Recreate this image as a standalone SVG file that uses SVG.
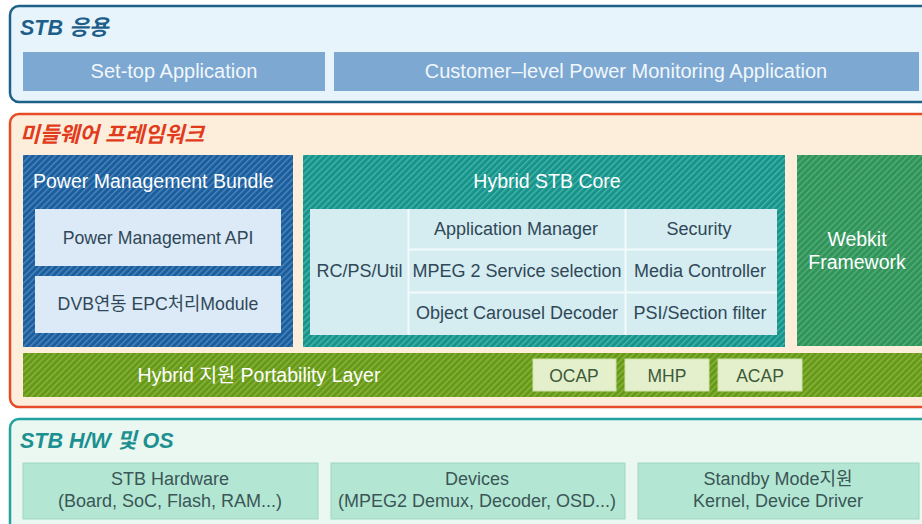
<svg xmlns="http://www.w3.org/2000/svg" width="922" height="524" viewBox="0 0 922 524">
<defs>
<pattern id="hBlue" width="4.5" height="4.5" patternUnits="userSpaceOnUse" patternTransform="rotate(45)">
<rect width="4.5" height="4.5" fill="#1c5d9b"/><rect width="1.4" height="4.5" fill="#4a86bf"/></pattern>
<pattern id="hTeal" width="4.5" height="4.5" patternUnits="userSpaceOnUse" patternTransform="rotate(45)">
<rect width="4.5" height="4.5" fill="#16948c"/><rect width="1.4" height="4.5" fill="#45b3a8"/></pattern>
<pattern id="hGreen" width="4.5" height="4.5" patternUnits="userSpaceOnUse" patternTransform="rotate(45)">
<rect width="4.5" height="4.5" fill="#2f935a"/><rect width="1.4" height="4.5" fill="#55ac77"/></pattern>
<pattern id="hOlive" width="4.5" height="4.5" patternUnits="userSpaceOnUse" patternTransform="rotate(45)">
<rect width="4.5" height="4.5" fill="#66991a"/><rect width="1.4" height="4.5" fill="#8ab43a"/></pattern>
<style>
text{font-family:"Liberation Sans","Noto Sans CJK KR",sans-serif;}
.title{font-size:21.5px;font-weight:bold;font-style:italic;}
.app{fill:#7ca8d2;}
.appt{fill:#f2f7fb;font-size:20px;text-anchor:middle;}
.wt{fill:#ffffff;font-size:19.5px;text-anchor:middle;}
.pm{fill:#dce9f6;}
.pmt{fill:#2f4858;font-size:17.7px;text-anchor:middle;}
.cell{fill:#d5ecf0;}
.ct{fill:#2f4858;font-size:18px;text-anchor:middle;}
.sb{fill:#e4f0cb;stroke:#cfe2a8;stroke-width:1;}
.sbt{fill:#3d5a3a;font-size:17.5px;text-anchor:middle;}
.hw{fill:#b4e6d4;stroke:#9fd6c2;stroke-width:1;}
.hwt{fill:#3a5656;font-size:18px;text-anchor:middle;}
</style>
</defs>

<g id="panel-app">
<rect x="10" y="6" width="930" height="96" rx="9" fill="#e8f4fb" stroke="#1d6088" stroke-width="2.5"/>
<text class="title" x="20" y="35" fill="#1d5f8a">STB 응용</text>
</g>
<g id="set-top-application">
<rect class="app" x="23" y="52" width="302" height="39"/>
<text class="appt" x="174" y="78">Set-top Application</text>
</g>
<g id="power-monitoring-application">
<rect class="app" x="334" y="52" width="585" height="39"/>
<text class="appt" x="626" y="78">Customer–level Power Monitoring Application</text>
</g>

<g id="panel-middleware">
<rect x="10" y="114" width="930" height="293" rx="9" fill="#fdeedb" stroke="#e64c28" stroke-width="2.5"/>
<text class="title" x="20" y="142" fill="#e23b1c">미들웨어 프레임워크</text>
</g>

<g id="power-management-bundle">
<rect x="23" y="155" width="270" height="192" fill="url(#hBlue)"/>
<text class="wt" x="33" y="188" style="text-anchor:start">Power Management Bundle</text>
</g>
<g id="power-management-api">
<rect class="pm" x="35" y="209" width="246" height="57"/>
<text class="pmt" x="158" y="244">Power Management API</text>
</g>
<g id="dvb-epc-module">
<rect class="pm" x="35" y="276" width="246" height="57"/>
<text class="pmt" x="158" y="310">DVB연동 EPC처리Module</text>
</g>

<g id="hybrid-stb-core">
<rect x="303" y="155" width="482" height="192" fill="url(#hTeal)"/>
<text class="wt" x="547" y="188">Hybrid STB Core</text>
</g>
<g id="core-table">
<rect class="cell" x="310" y="209" width="467" height="126"/>
<g stroke="#f3fafb" stroke-width="2">
<line x1="408.5" y1="209" x2="408.5" y2="335"/>
<line x1="625.5" y1="209" x2="625.5" y2="335"/>
<line x1="408.5" y1="249.5" x2="777" y2="249.5"/>
<line x1="408.5" y1="292.5" x2="777" y2="292.5"/>
</g>
</g>
<g id="rc-ps-util"><text class="ct" x="359.5" y="277">RC/PS/Util</text></g>
<g id="application-manager"><text class="ct" x="516" y="235">Application Manager</text></g>
<g id="mpeg2-service-selection"><text class="ct" x="517" y="277">MPEG 2 Service selection</text></g>
<g id="object-carousel-decoder"><text class="ct" x="517" y="319">Object Carousel Decoder</text></g>
<g id="security"><text class="ct" x="699" y="235">Security</text></g>
<g id="media-controller"><text class="ct" x="700" y="277">Media Controller</text></g>
<g id="psi-section-filter"><text class="ct" x="700" y="319">PSI/Section filter</text></g>

<g id="webkit-framework">
<rect x="797" y="155" width="125" height="191" fill="url(#hGreen)"/>
<text class="wt" x="857" y="246">Webkit</text>
<text class="wt" x="857" y="269">Framework</text>
</g>

<g id="portability-layer">
<rect x="23" y="353" width="899" height="44" fill="url(#hOlive)"/>
<text class="wt" x="259" y="382">Hybrid 지원 Portability Layer</text>
</g>
<g id="ocap">
<rect class="sb" x="533" y="359" width="83" height="32"/>
<text class="sbt" x="574" y="382">OCAP</text>
</g>
<g id="mhp">
<rect class="sb" x="625" y="359" width="84" height="32"/>
<text class="sbt" x="667" y="382">MHP</text>
</g>
<g id="acap">
<rect class="sb" x="718" y="359" width="84" height="32"/>
<text class="sbt" x="760" y="382">ACAP</text>
</g>

<g id="panel-hw-os">
<rect x="10" y="419" width="930" height="120" rx="9" fill="#eaf8f1" stroke="#23a0a0" stroke-width="2.5"/>
<text class="title" x="20" y="448" fill="#1c9090">STB H/W 및 OS</text>
</g>
<g id="stb-hardware">
<rect class="hw" x="23" y="463" width="295" height="56"/>
<text class="hwt" x="170" y="485">STB Hardware</text>
<text class="hwt" x="170" y="507">(Board, SoC, Flash, RAM...)</text>
</g>
<g id="devices">
<rect class="hw" x="331" y="463" width="294" height="56"/>
<text class="hwt" x="477" y="485">Devices</text>
<text class="hwt" x="477" y="507">(MPEG2 Demux, Decoder, OSD...)</text>
</g>
<g id="standby-kernel">
<rect class="hw" x="638" y="463" width="281" height="56"/>
<text class="hwt" x="778" y="485">Standby Mode지원</text>
<text class="hwt" x="778" y="507">Kernel, Device Driver</text>
</g>

<g id="connectors"></g>
</svg>
